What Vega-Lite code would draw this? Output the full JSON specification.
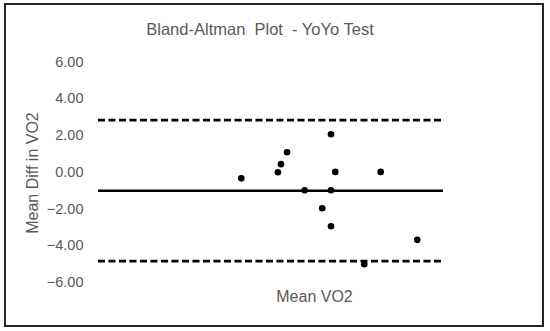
{
  "$schema": "https://vega.github.io/schema/vega-lite/v6.json",
  "width": 538,
  "height": 322,
  "autosize": "none",
  "padding": {"left": 5, "top": 4, "right": 7, "bottom": 5},
  "background": "white",
  "config": {
    "view": {"stroke": "#262626", "strokeWidth": 2},
    "font": "Liberation Sans"
  },
  "title": {
    "text": "Bland-Altman\u00a0 Plot\u00a0 - YoYo Test",
    "orient": "top",
    "anchor": "middle",
    "frame": "group",
    "offset": -42,
    "baseline": "middle",
    "dx": -14,
    "fontSize": 16.5,
    "fontWeight": "normal",
    "color": "#595959",
    "font": "Liberation Sans"
  },
  "datasets": {
    "points": [
      {"mean_vo2": 48.31, "diff": -0.32},
      {"mean_vo2": 50.43, "diff": 0.01},
      {"mean_vo2": 50.61, "diff": 0.45},
      {"mean_vo2": 50.96, "diff": 1.10},
      {"mean_vo2": 51.98, "diff": -0.97},
      {"mean_vo2": 53.0, "diff": -1.95},
      {"mean_vo2": 53.51, "diff": 2.08},
      {"mean_vo2": 53.51, "diff": -0.97},
      {"mean_vo2": 53.51, "diff": -2.93},
      {"mean_vo2": 53.76, "diff": 0.03},
      {"mean_vo2": 56.39, "diff": 0.03},
      {"mean_vo2": 55.44, "diff": -5.0},
      {"mean_vo2": 58.51, "diff": -3.67}
    ],
    "limits": [
      {"mean_vo2": 40, "diff": 2.85, "line": "upper"},
      {"mean_vo2": 60, "diff": 2.85, "line": "upper"},
      {"mean_vo2": 40, "diff": -1.0, "line": "mean"},
      {"mean_vo2": 60, "diff": -1.0, "line": "mean"},
      {"mean_vo2": 40, "diff": -4.83, "line": "lower"},
      {"mean_vo2": 60, "diff": -4.83, "line": "lower"}
    ]
  },
  "encoding": {
    "x": {
      "field": "mean_vo2",
      "type": "quantitative",
      "scale": {"domain": [34.61, 65.8], "nice": false, "zero": false},
      "axis": {
        "orient": "bottom",
        "labels": false,
        "ticks": false,
        "domain": false,
        "grid": false,
        "title": "Mean VO2",
        "titleFont": "Liberation Sans",
        "titleFontSize": 16,
        "titleFontWeight": "normal",
        "titleColor": "#595959",
        "titleX": 309,
        "titleY": -30,
        "titleAlign": "center",
        "titleBaseline": "middle"
      }
    },
    "y": {
      "field": "diff",
      "type": "quantitative",
      "scale": {"domain": [-8.36, 9.17], "nice": false, "zero": false},
      "axis": {
        "orient": "left",
        "offset": -93,
        "values": [-6, -4, -2, 0, 2, 4, 6],
        "format": ".2f",
        "domain": false,
        "ticks": false,
        "tickSize": 0,
        "grid": false,
        "labelPadding": 15,
        "labelFont": "Liberation Sans",
        "labelFontSize": 14.5,
        "labelColor": "#595959",
        "title": "Mean Diff in VO2",
        "titleFont": "Liberation Sans",
        "titleFontSize": 16,
        "titleFontWeight": "normal",
        "titleColor": "#595959",
        "titleX": -66,
        "titleY": 168.5,
        "titleAngle": -90,
        "titleAlign": "center",
        "titleBaseline": "middle"
      }
    }
  },
  "layer": [
    {
      "data": {"name": "limits"},
      "mark": {"type": "line", "color": "black", "strokeWidth": 2.6},
      "encoding": {
        "detail": {"field": "line", "type": "nominal"},
        "strokeDash": {
          "field": "line",
          "type": "nominal",
          "scale": {"domain": ["upper", "mean", "lower"], "range": [[7, 3.5], [1, 0], [7, 3.5]]},
          "legend": null
        }
      }
    },
    {
      "data": {"name": "points"},
      "mark": {"type": "circle", "color": "black", "opacity": 1, "size": 44},
      "encoding": {}
    }
  ]
}
